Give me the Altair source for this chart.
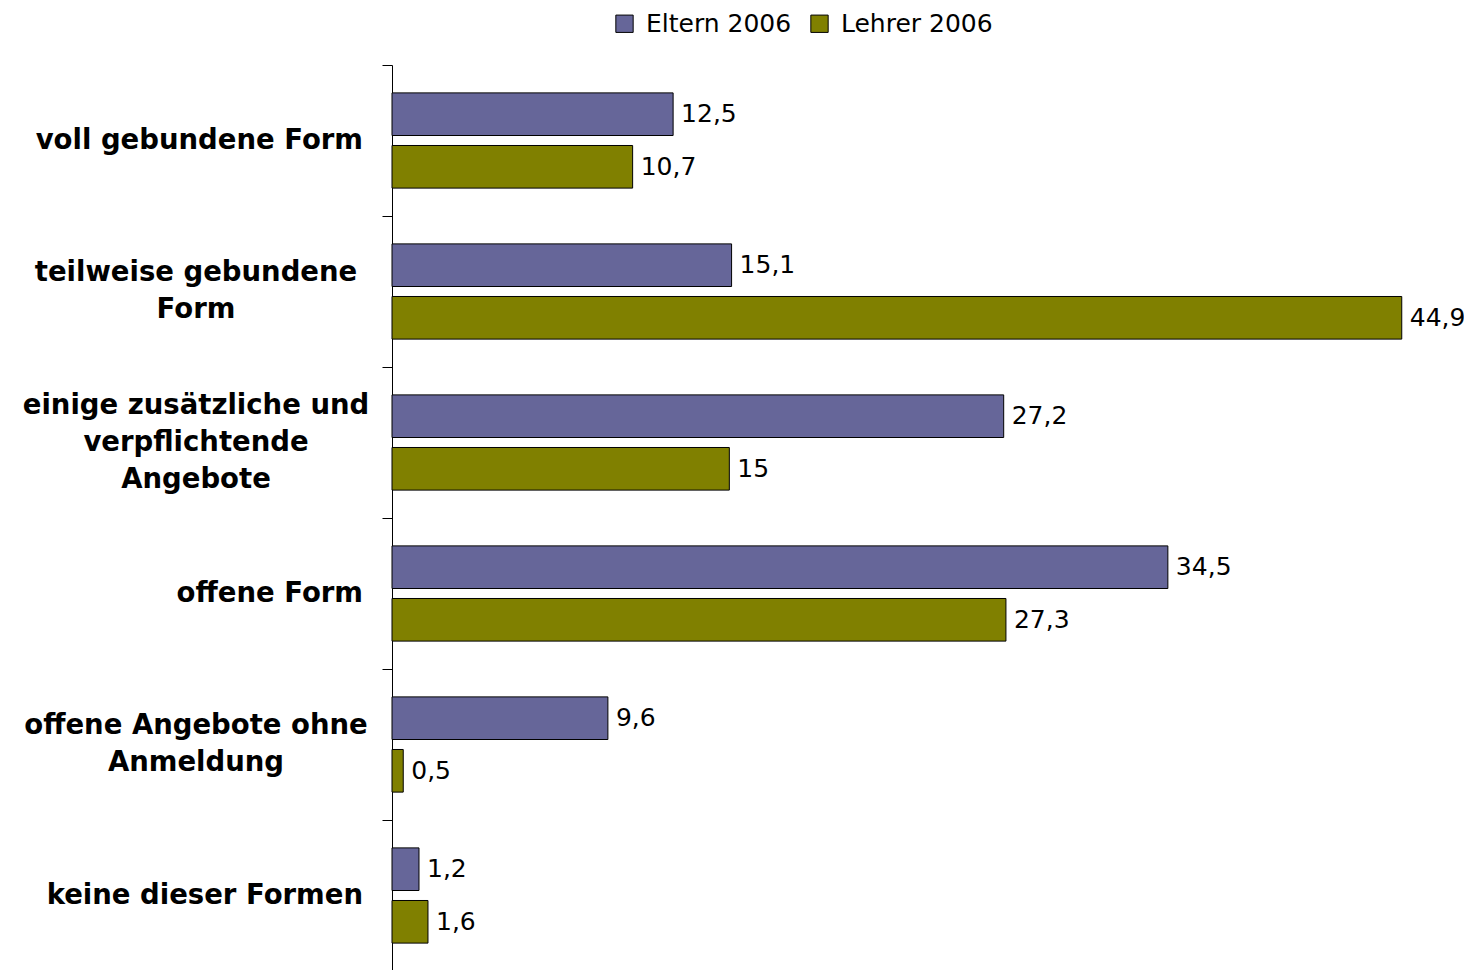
import altair as alt
import pandas as pd

categories = [
    "voll gebundene Form",
    "teilweise gebundene Form",
    "einige zusätzliche und verpflichtende Angebote",
    "offene Form",
    "offene Angebote ohne Anmeldung",
    "keine dieser Formen",
]
category_lines = [
    ["voll gebundene Form"],
    ["teilweise gebundene", "Form"],
    ["einige zusätzliche und", "verpflichtende", "Angebote"],
    ["offene Form"],
    ["offene Angebote ohne", "Anmeldung"],
    ["keine dieser Formen"],
]
series = ["Eltern 2006", "Lehrer 2006"]
eltern = [12.5, 15.1, 27.2, 34.5, 9.6, 1.2]
lehrer = [10.7, 44.9, 15.0, 27.3, 0.5, 1.6]
colors = ["#666699", "#808000"]

LINE_H = 37


def fmt(v):
    return f"{v:g}".replace(".", ",")


rows = []
for c, e, l in zip(categories, eltern, lehrer):
    rows.append({"category": c, "series": series[0], "value": e, "label": fmt(e)})
    rows.append({"category": c, "series": series[1], "value": l, "label": fmt(l)})
df = pd.DataFrame(rows)

ldf = pd.DataFrame({
    "category": categories,
    "text": ["\n".join(ls) for ls in category_lines],
    "nlines": [len(ls) for ls in category_lines],
})

y_enc = alt.Y(
    "category:N",
    sort=categories,
    scale=alt.Scale(domain=categories, paddingInner=0, paddingOuter=0),
    axis=alt.Axis(
        title=None, labels=False, tickBand="extent", tickSize=10,
        domainColor="black", tickColor="black", domainWidth=1, tickWidth=1,
        grid=False,
    ),
)
yoff = alt.YOffset("series:N", scale=alt.Scale(domain=series, paddingInner=0.19, paddingOuter=0.53))
x_enc = alt.X("value:Q", scale=alt.Scale(domain=[0, 45], nice=False, zero=True), axis=None)

bars = alt.Chart(df).mark_bar(stroke="black", strokeWidth=1, opacity=1).encode(
    y=y_enc,
    yOffset=yoff,
    x=x_enc,
    color=alt.Color(
        "series:N",
        scale=alt.Scale(domain=series, range=colors),
        legend=alt.Legend(
            title=None, orient="none", legendX=220, legendY=-54,
            direction="horizontal", symbolType="square", symbolSize=300,
            symbolStrokeColor="black", symbolStrokeWidth=1, symbolOpacity=1,
            labelFont="DejaVu Sans", labelFontSize=25, labelColor="black",
            columnPadding=15, labelOffset=9,
        ),
    ),
)

vals = alt.Chart(df).mark_text(
    align="left", baseline="middle", dx=8, font="DejaVu Sans", fontSize=25, color="black"
).encode(y=alt.Y("category:N", sort=categories), yOffset=alt.YOffset("series:N"), x=x_enc, text="label:N")

layers = [bars, vals]
for n in sorted(set(ldf["nlines"])):
    if n == 1:
        mk = alt.Chart(ldf).transform_filter(alt.datum.nlines == 1).mark_text(
            align="right", baseline="middle", font="DejaVu Sans", fontWeight="bold",
            fontSize=27.5, color="black", lineBreak="\n", lineHeight=LINE_H,
        ).encode(y=alt.Y("category:N", sort=categories), x=alt.value(-29), text="text:N")
    else:
        mk = alt.Chart(ldf).transform_filter(alt.datum.nlines == int(n)).mark_text(
            align="center", baseline="middle", font="DejaVu Sans", fontWeight="bold",
            fontSize=27.5, color="black", lineBreak="\n", lineHeight=LINE_H,
            dy=-(int(n) - 1) * LINE_H / 2,
        ).encode(y=alt.Y("category:N", sort=categories), x=alt.value(-196), text="text:N")
    layers.append(mk)

chart = alt.layer(*layers).properties(
    width=1012,
    height=906,
    padding={"left": 384, "top": 57, "right": 60, "bottom": 0},
    autosize=alt.AutoSizeParams(type="none"),
).configure_view(stroke=None)

chart.save("out.html", embed_options={"renderer": "svg", "actions": False})
